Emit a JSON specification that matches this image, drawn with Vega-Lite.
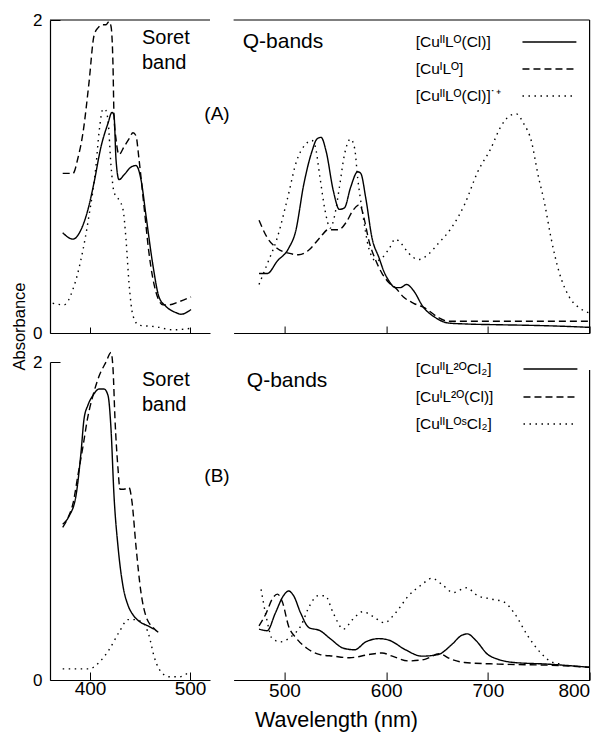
{
  "$schema": "https://vega.github.io/schema/vega-lite/v6.json",
  "background": "white",
  "padding": {"left": 10, "top": 11, "right": 5, "bottom": 2},
  "config": {
    "font": "Liberation Sans",
    "view": {"stroke": null},
    "axis": {"grid": false, "domainColor": "black", "domainWidth": 1.2, "tickColor": "black", "tickWidth": 1, "labelColor": "black", "titleColor": "black", "labelFont": "Liberation Sans", "titleFont": "Liberation Sans", "titleFontWeight": "normal"},
    "line": {"strokeWidth": 1.4, "color": "black", "interpolate": "monotone"},
    "rule": {"color": "black", "strokeWidth": 1.2},
    "text": {"font": "Liberation Sans", "color": "black"}
  },
  "datasets": {
    "AS": [
      {"s": "[CuᴵᴵLᴼ(Cl)]", "w": 372.7, "a": 0.64}, {"s": "[CuᴵᴵLᴼ(Cl)]", "w": 383, "a": 0.6}, {"s": "[CuᴵᴵLᴼ(Cl)]", "w": 391, "a": 0.66}, {"s": "[CuᴵᴵLᴼ(Cl)]", "w": 398, "a": 0.79}, {"s": "[CuᴵᴵLᴼ(Cl)]", "w": 404, "a": 0.96}, {"s": "[CuᴵᴵLᴼ(Cl)]", "w": 411, "a": 1.19}, {"s": "[CuᴵᴵLᴼ(Cl)]", "w": 418, "a": 1.34}, {"s": "[CuᴵᴵLᴼ(Cl)]", "w": 422, "a": 1.41}, {"s": "[CuᴵᴵLᴼ(Cl)]", "w": 424, "a": 1.39}, {"s": "[CuᴵᴵLᴼ(Cl)]", "w": 426, "a": 1.11}, {"s": "[CuᴵᴵLᴼ(Cl)]", "w": 429, "a": 0.98}, {"s": "[CuᴵᴵLᴼ(Cl)]", "w": 434, "a": 1.01}, {"s": "[CuᴵᴵLᴼ(Cl)]", "w": 441, "a": 1.06}, {"s": "[CuᴵᴵLᴼ(Cl)]", "w": 446, "a": 1.07}, {"s": "[CuᴵᴵLᴼ(Cl)]", "w": 451, "a": 0.98}, {"s": "[CuᴵᴵLᴼ(Cl)]", "w": 456, "a": 0.75}, {"s": "[CuᴵᴵLᴼ(Cl)]", "w": 463, "a": 0.43}, {"s": "[CuᴵᴵLᴼ(Cl)]", "w": 469, "a": 0.23}, {"s": "[CuᴵᴵLᴼ(Cl)]", "w": 476, "a": 0.17}, {"s": "[CuᴵᴵLᴼ(Cl)]", "w": 486, "a": 0.13}, {"s": "[CuᴵᴵLᴼ(Cl)]", "w": 491, "a": 0.12}, {"s": "[CuᴵᴵLᴼ(Cl)]", "w": 501, "a": 0.15},
      {"s": "[CuᴵLᴼ]", "w": 372.7, "a": 1.02}, {"s": "[CuᴵLᴼ]", "w": 383, "a": 1.02}, {"s": "[CuᴵLᴼ]", "w": 388, "a": 1.12}, {"s": "[CuᴵLᴼ]", "w": 393, "a": 1.28}, {"s": "[CuᴵLᴼ]", "w": 399, "a": 1.6}, {"s": "[CuᴵLᴼ]", "w": 404, "a": 1.9}, {"s": "[CuᴵLᴼ]", "w": 408, "a": 1.95}, {"s": "[CuᴵLᴼ]", "w": 413, "a": 1.97}, {"s": "[CuᴵLᴼ]", "w": 416, "a": 1.97}, {"s": "[CuᴵLᴼ]", "w": 419, "a": 1.99}, {"s": "[CuᴵLᴼ]", "w": 421, "a": 1.96}, {"s": "[CuᴵLᴼ]", "w": 423, "a": 1.71}, {"s": "[CuᴵLᴼ]", "w": 424, "a": 1.39}, {"s": "[CuᴵLᴼ]", "w": 426, "a": 1.24}, {"s": "[CuᴵLᴼ]", "w": 429, "a": 1.14}, {"s": "[CuᴵLᴼ]", "w": 434, "a": 1.19}, {"s": "[CuᴵLᴼ]", "w": 439, "a": 1.24}, {"s": "[CuᴵLᴼ]", "w": 443, "a": 1.28}, {"s": "[CuᴵLᴼ]", "w": 446, "a": 1.26}, {"s": "[CuᴵLᴼ]", "w": 449, "a": 1.11}, {"s": "[CuᴵLᴼ]", "w": 454, "a": 0.81}, {"s": "[CuᴵLᴼ]", "w": 459, "a": 0.51}, {"s": "[CuᴵLᴼ]", "w": 466, "a": 0.26}, {"s": "[CuᴵLᴼ]", "w": 473, "a": 0.18}, {"s": "[CuᴵLᴼ]", "w": 479, "a": 0.18}, {"s": "[CuᴵLᴼ]", "w": 489, "a": 0.2}, {"s": "[CuᴵLᴼ]", "w": 501, "a": 0.23},
      {"s": "[CuᴵᴵLᴼ(Cl)]˙⁺", "w": 362.7, "a": 0.19}, {"s": "[CuᴵᴵLᴼ(Cl)]˙⁺", "w": 374, "a": 0.18}, {"s": "[CuᴵᴵLᴼ(Cl)]˙⁺", "w": 383, "a": 0.28}, {"s": "[CuᴵᴵLᴼ(Cl)]˙⁺", "w": 391, "a": 0.47}, {"s": "[CuᴵᴵLᴼ(Cl)]˙⁺", "w": 399, "a": 0.75}, {"s": "[CuᴵᴵLᴼ(Cl)]˙⁺", "w": 406, "a": 1.07}, {"s": "[CuᴵᴵLᴼ(Cl)]˙⁺", "w": 409, "a": 1.28}, {"s": "[CuᴵᴵLᴼ(Cl)]˙⁺", "w": 413, "a": 1.43}, {"s": "[CuᴵᴵLᴼ(Cl)]˙⁺", "w": 415, "a": 1.43}, {"s": "[CuᴵᴵLᴼ(Cl)]˙⁺", "w": 418, "a": 1.36}, {"s": "[CuᴵᴵLᴼ(Cl)]˙⁺", "w": 421, "a": 1.07}, {"s": "[CuᴵᴵLᴼ(Cl)]˙⁺", "w": 424, "a": 0.9}, {"s": "[CuᴵᴵLᴼ(Cl)]˙⁺", "w": 429, "a": 0.85}, {"s": "[CuᴵᴵLᴼ(Cl)]˙⁺", "w": 433, "a": 0.79}, {"s": "[CuᴵᴵLᴼ(Cl)]˙⁺", "w": 436, "a": 0.6}, {"s": "[CuᴵᴵLᴼ(Cl)]˙⁺", "w": 439, "a": 0.32}, {"s": "[CuᴵᴵLᴼ(Cl)]˙⁺", "w": 443, "a": 0.11}, {"s": "[CuᴵᴵLᴼ(Cl)]˙⁺", "w": 449, "a": 0.05}, {"s": "[CuᴵᴵLᴼ(Cl)]˙⁺", "w": 466, "a": 0.04}, {"s": "[CuᴵᴵLᴼ(Cl)]˙⁺", "w": 483, "a": 0.02}, {"s": "[CuᴵᴵLᴼ(Cl)]˙⁺", "w": 501, "a": 0.03}
    ],
    "AQ": [
      {"s": "[CuᴵᴵLᴼ(Cl)]", "w": 475, "a": 0.38}, {"s": "[CuᴵᴵLᴼ(Cl)]", "w": 483, "a": 0.38}, {"s": "[CuᴵᴵLᴼ(Cl)]", "w": 493, "a": 0.46}, {"s": "[CuᴵᴵLᴼ(Cl)]", "w": 504, "a": 0.54}, {"s": "[CuᴵᴵLᴼ(Cl)]", "w": 511, "a": 0.65}, {"s": "[CuᴵᴵLᴼ(Cl)]", "w": 519, "a": 0.95}, {"s": "[CuᴵᴵLᴼ(Cl)]", "w": 527, "a": 1.16}, {"s": "[CuᴵᴵLᴼ(Cl)]", "w": 532, "a": 1.24}, {"s": "[CuᴵᴵLᴼ(Cl)]", "w": 536, "a": 1.25}, {"s": "[CuᴵᴵLᴼ(Cl)]", "w": 541, "a": 1.16}, {"s": "[CuᴵᴵLᴼ(Cl)]", "w": 548, "a": 0.91}, {"s": "[CuᴵᴵLᴼ(Cl)]", "w": 554, "a": 0.79}, {"s": "[CuᴵᴵLᴼ(Cl)]", "w": 559, "a": 0.8}, {"s": "[CuᴵᴵLᴼ(Cl)]", "w": 565, "a": 0.93}, {"s": "[CuᴵᴵLᴼ(Cl)]", "w": 572, "a": 1.03}, {"s": "[CuᴵᴵLᴼ(Cl)]", "w": 575, "a": 1.02}, {"s": "[CuᴵᴵLᴼ(Cl)]", "w": 580, "a": 0.86}, {"s": "[CuᴵᴵLᴼ(Cl)]", "w": 586, "a": 0.61}, {"s": "[CuᴵᴵLᴼ(Cl)]", "w": 593, "a": 0.48}, {"s": "[CuᴵᴵLᴼ(Cl)]", "w": 598, "a": 0.39}, {"s": "[CuᴵᴵLᴼ(Cl)]", "w": 603, "a": 0.33}, {"s": "[CuᴵᴵLᴼ(Cl)]", "w": 609, "a": 0.29}, {"s": "[CuᴵᴵLᴼ(Cl)]", "w": 614, "a": 0.29}, {"s": "[CuᴵᴵLᴼ(Cl)]", "w": 620, "a": 0.31}, {"s": "[CuᴵᴵLᴼ(Cl)]", "w": 627, "a": 0.27}, {"s": "[CuᴵᴵLᴼ(Cl)]", "w": 636, "a": 0.17}, {"s": "[CuᴵᴵLᴼ(Cl)]", "w": 648, "a": 0.1}, {"s": "[CuᴵᴵLᴼ(Cl)]", "w": 661, "a": 0.064}, {"s": "[CuᴵᴵLᴼ(Cl)]", "w": 677, "a": 0.058}, {"s": "[CuᴵᴵLᴼ(Cl)]", "w": 709, "a": 0.053}, {"s": "[CuᴵᴵLᴼ(Cl)]", "w": 741, "a": 0.049}, {"s": "[CuᴵᴵLᴼ(Cl)]", "w": 774, "a": 0.043}, {"s": "[CuᴵᴵLᴼ(Cl)]", "w": 800, "a": 0.036},
      {"s": "[CuᴵLᴼ]", "w": 475, "a": 0.72}, {"s": "[CuᴵLᴼ]", "w": 483, "a": 0.61}, {"s": "[CuᴵLᴼ]", "w": 493, "a": 0.54}, {"s": "[CuᴵLᴼ]", "w": 504, "a": 0.51}, {"s": "[CuᴵLᴼ]", "w": 514, "a": 0.5}, {"s": "[CuᴵLᴼ]", "w": 524, "a": 0.53}, {"s": "[CuᴵLᴼ]", "w": 535, "a": 0.61}, {"s": "[CuᴵLᴼ]", "w": 543, "a": 0.66}, {"s": "[CuᴵLᴼ]", "w": 553, "a": 0.66}, {"s": "[CuᴵLᴼ]", "w": 561, "a": 0.71}, {"s": "[CuᴵLᴼ]", "w": 567, "a": 0.78}, {"s": "[CuᴵLᴼ]", "w": 574, "a": 0.82}, {"s": "[CuᴵLᴼ]", "w": 578, "a": 0.74}, {"s": "[CuᴵLᴼ]", "w": 583, "a": 0.59}, {"s": "[CuᴵLᴼ]", "w": 590, "a": 0.46}, {"s": "[CuᴵLᴼ]", "w": 596, "a": 0.38}, {"s": "[CuᴵLᴼ]", "w": 603, "a": 0.32}, {"s": "[CuᴵLᴼ]", "w": 609, "a": 0.29}, {"s": "[CuᴵLᴼ]", "w": 617, "a": 0.23}, {"s": "[CuᴵLᴼ]", "w": 627, "a": 0.19}, {"s": "[CuᴵLᴼ]", "w": 638, "a": 0.16}, {"s": "[CuᴵLᴼ]", "w": 651, "a": 0.1}, {"s": "[CuᴵLᴼ]", "w": 661, "a": 0.075}, {"s": "[CuᴵLᴼ]", "w": 693, "a": 0.075}, {"s": "[CuᴵLᴼ]", "w": 741, "a": 0.075}, {"s": "[CuᴵLᴼ]", "w": 800, "a": 0.075},
      {"s": "[CuᴵᴵLᴼ(Cl)]˙⁺", "w": 475, "a": 0.31}, {"s": "[CuᴵᴵLᴼ(Cl)]˙⁺", "w": 483, "a": 0.44}, {"s": "[CuᴵᴵLᴼ(Cl)]˙⁺", "w": 493, "a": 0.61}, {"s": "[CuᴵᴵLᴼ(Cl)]˙⁺", "w": 503, "a": 0.86}, {"s": "[CuᴵᴵLᴼ(Cl)]˙⁺", "w": 512, "a": 1.1}, {"s": "[CuᴵᴵLᴼ(Cl)]˙⁺", "w": 520, "a": 1.2}, {"s": "[CuᴵᴵLᴼ(Cl)]˙⁺", "w": 527, "a": 1.23}, {"s": "[CuᴵᴵLᴼ(Cl)]˙⁺", "w": 530, "a": 1.2}, {"s": "[CuᴵᴵLᴼ(Cl)]˙⁺", "w": 535, "a": 0.99}, {"s": "[CuᴵᴵLᴼ(Cl)]˙⁺", "w": 540, "a": 0.78}, {"s": "[CuᴵᴵLᴼ(Cl)]˙⁺", "w": 545, "a": 0.67}, {"s": "[CuᴵᴵLᴼ(Cl)]˙⁺", "w": 549, "a": 0.74}, {"s": "[CuᴵᴵLᴼ(Cl)]˙⁺", "w": 554, "a": 0.93}, {"s": "[CuᴵᴵLᴼ(Cl)]˙⁺", "w": 559, "a": 1.14}, {"s": "[CuᴵᴵLᴼ(Cl)]˙⁺", "w": 565, "a": 1.24}, {"s": "[CuᴵᴵLᴼ(Cl)]˙⁺", "w": 569, "a": 1.18}, {"s": "[CuᴵᴵLᴼ(Cl)]˙⁺", "w": 572, "a": 0.99}, {"s": "[CuᴵᴵLᴼ(Cl)]˙⁺", "w": 577, "a": 0.76}, {"s": "[CuᴵᴵLᴼ(Cl)]˙⁺", "w": 583, "a": 0.54}, {"s": "[CuᴵᴵLᴼ(Cl)]˙⁺", "w": 590, "a": 0.46}, {"s": "[CuᴵᴵLᴼ(Cl)]˙⁺", "w": 596, "a": 0.48}, {"s": "[CuᴵᴵLᴼ(Cl)]˙⁺", "w": 603, "a": 0.54}, {"s": "[CuᴵᴵLᴼ(Cl)]˙⁺", "w": 609, "a": 0.6}, {"s": "[CuᴵᴵLᴼ(Cl)]˙⁺", "w": 615, "a": 0.57}, {"s": "[CuᴵᴵLᴼ(Cl)]˙⁺", "w": 622, "a": 0.51}, {"s": "[CuᴵᴵLᴼ(Cl)]˙⁺", "w": 632, "a": 0.47}, {"s": "[CuᴵᴵLᴼ(Cl)]˙⁺", "w": 641, "a": 0.5}, {"s": "[CuᴵᴵLᴼ(Cl)]˙⁺", "w": 651, "a": 0.57}, {"s": "[CuᴵᴵLᴼ(Cl)]˙⁺", "w": 664, "a": 0.67}, {"s": "[CuᴵᴵLᴼ(Cl)]˙⁺", "w": 677, "a": 0.82}, {"s": "[CuᴵᴵLᴼ(Cl)]˙⁺", "w": 690, "a": 1.03}, {"s": "[CuᴵᴵLᴼ(Cl)]˙⁺", "w": 703, "a": 1.18}, {"s": "[CuᴵᴵLᴼ(Cl)]˙⁺", "w": 712, "a": 1.31}, {"s": "[CuᴵᴵLᴼ(Cl)]˙⁺", "w": 722, "a": 1.39}, {"s": "[CuᴵᴵLᴼ(Cl)]˙⁺", "w": 728, "a": 1.4}, {"s": "[CuᴵᴵLᴼ(Cl)]˙⁺", "w": 735, "a": 1.34}, {"s": "[CuᴵᴵLᴼ(Cl)]˙⁺", "w": 743, "a": 1.22}, {"s": "[CuᴵᴵLᴼ(Cl)]˙⁺", "w": 749, "a": 1.02}, {"s": "[CuᴵᴵLᴼ(Cl)]˙⁺", "w": 756, "a": 0.82}, {"s": "[CuᴵᴵLᴼ(Cl)]˙⁺", "w": 762, "a": 0.61}, {"s": "[CuᴵᴵLᴼ(Cl)]˙⁺", "w": 770, "a": 0.39}, {"s": "[CuᴵᴵLᴼ(Cl)]˙⁺", "w": 780, "a": 0.23}, {"s": "[CuᴵᴵLᴼ(Cl)]˙⁺", "w": 790, "a": 0.16}, {"s": "[CuᴵᴵLᴼ(Cl)]˙⁺", "w": 799, "a": 0.13}
    ],
    "BS": [
      {"s": "[CuᴵᴵL²ᴼCl₂]", "w": 372.7, "a": 0.98}, {"s": "[CuᴵᴵL²ᴼCl₂]", "w": 379, "a": 1.03}, {"s": "[CuᴵᴵL²ᴼCl₂]", "w": 386, "a": 1.16}, {"s": "[CuᴵᴵL²ᴼCl₂]", "w": 391, "a": 1.43}, {"s": "[CuᴵᴵL²ᴼCl₂]", "w": 394, "a": 1.64}, {"s": "[CuᴵᴵL²ᴼCl₂]", "w": 398, "a": 1.73}, {"s": "[CuᴵᴵL²ᴼCl₂]", "w": 403, "a": 1.79}, {"s": "[CuᴵᴵL²ᴼCl₂]", "w": 409, "a": 1.83}, {"s": "[CuᴵᴵL²ᴼCl₂]", "w": 414, "a": 1.83}, {"s": "[CuᴵᴵL²ᴼCl₂]", "w": 418, "a": 1.79}, {"s": "[CuᴵᴵL²ᴼCl₂]", "w": 421, "a": 1.58}, {"s": "[CuᴵᴵL²ᴼCl₂]", "w": 424, "a": 1.16}, {"s": "[CuᴵᴵL²ᴼCl₂]", "w": 428, "a": 0.84}, {"s": "[CuᴵᴵL²ᴼCl₂]", "w": 433, "a": 0.59}, {"s": "[CuᴵᴵL²ᴼCl₂]", "w": 438, "a": 0.47}, {"s": "[CuᴵᴵL²ᴼCl₂]", "w": 443, "a": 0.41}, {"s": "[CuᴵᴵL²ᴼCl₂]", "w": 449, "a": 0.37}, {"s": "[CuᴵᴵL²ᴼCl₂]", "w": 458, "a": 0.34}, {"s": "[CuᴵᴵL²ᴼCl₂]", "w": 464, "a": 0.32},
      {"s": "[CuᴵL²ᴼ(Cl)]", "w": 372.7, "a": 0.96}, {"s": "[CuᴵL²ᴼ(Cl)]", "w": 378, "a": 1.02}, {"s": "[CuᴵL²ᴼ(Cl)]", "w": 383, "a": 1.11}, {"s": "[CuᴵL²ᴼ(Cl)]", "w": 388, "a": 1.29}, {"s": "[CuᴵL²ᴼ(Cl)]", "w": 393, "a": 1.47}, {"s": "[CuᴵL²ᴼ(Cl)]", "w": 398, "a": 1.66}, {"s": "[CuᴵL²ᴼ(Cl)]", "w": 403, "a": 1.79}, {"s": "[CuᴵL²ᴼ(Cl)]", "w": 409, "a": 1.91}, {"s": "[CuᴵL²ᴼ(Cl)]", "w": 416, "a": 2.0}, {"s": "[CuᴵL²ᴼ(Cl)]", "w": 421, "a": 2.06}, {"s": "[CuᴵL²ᴼ(Cl)]", "w": 423, "a": 1.96}, {"s": "[CuᴵL²ᴼ(Cl)]", "w": 425, "a": 1.64}, {"s": "[CuᴵL²ᴼ(Cl)]", "w": 428, "a": 1.33}, {"s": "[CuᴵL²ᴼ(Cl)]", "w": 430, "a": 1.2}, {"s": "[CuᴵL²ᴼ(Cl)]", "w": 434, "a": 1.2}, {"s": "[CuᴵL²ᴼ(Cl)]", "w": 439, "a": 1.21}, {"s": "[CuᴵL²ᴼ(Cl)]", "w": 442, "a": 1.12}, {"s": "[CuᴵL²ᴼ(Cl)]", "w": 446, "a": 0.84}, {"s": "[CuᴵL²ᴼ(Cl)]", "w": 451, "a": 0.55}, {"s": "[CuᴵL²ᴼ(Cl)]", "w": 456, "a": 0.4}, {"s": "[CuᴵL²ᴼ(Cl)]", "w": 463, "a": 0.33}, {"s": "[CuᴵL²ᴼ(Cl)]", "w": 471, "a": 0.29},
      {"s": "[CuᴵᴵLᴼˢCl₂]", "w": 372.7, "a": 0.07}, {"s": "[CuᴵᴵLᴼˢCl₂]", "w": 399, "a": 0.07}, {"s": "[CuᴵᴵLᴼˢCl₂]", "w": 409, "a": 0.11}, {"s": "[CuᴵᴵLᴼˢCl₂]", "w": 419, "a": 0.19}, {"s": "[CuᴵᴵLᴼˢCl₂]", "w": 429, "a": 0.3}, {"s": "[CuᴵᴵLᴼˢCl₂]", "w": 438, "a": 0.38}, {"s": "[CuᴵᴵLᴼˢCl₂]", "w": 444, "a": 0.38}, {"s": "[CuᴵᴵLᴼˢCl₂]", "w": 453, "a": 0.36}, {"s": "[CuᴵᴵLᴼˢCl₂]", "w": 459, "a": 0.28}, {"s": "[CuᴵᴵLᴼˢCl₂]", "w": 464, "a": 0.15}, {"s": "[CuᴵᴵLᴼˢCl₂]", "w": 469, "a": 0.07}, {"s": "[CuᴵᴵLᴼˢCl₂]", "w": 479, "a": 0.02}, {"s": "[CuᴵᴵLᴼˢCl₂]", "w": 489, "a": 0.02}, {"s": "[CuᴵᴵLᴼˢCl₂]", "w": 499, "a": 0.05}
    ],
    "BQ": [
      {"s": "[CuᴵᴵL²ᴼCl₂]", "w": 475, "a": 0.32}, {"s": "[CuᴵᴵL²ᴼCl₂]", "w": 483, "a": 0.31}, {"s": "[CuᴵᴵL²ᴼCl₂]", "w": 491, "a": 0.42}, {"s": "[CuᴵᴵL²ᴼCl₂]", "w": 499, "a": 0.53}, {"s": "[CuᴵᴵL²ᴼCl₂]", "w": 504, "a": 0.56}, {"s": "[CuᴵᴵL²ᴼCl₂]", "w": 509, "a": 0.53}, {"s": "[CuᴵᴵL²ᴼCl₂]", "w": 516, "a": 0.42}, {"s": "[CuᴵᴵL²ᴼCl₂]", "w": 524, "a": 0.33}, {"s": "[CuᴵᴵL²ᴼCl₂]", "w": 535, "a": 0.31}, {"s": "[CuᴵᴵL²ᴼCl₂]", "w": 545, "a": 0.26}, {"s": "[CuᴵᴵL²ᴼCl₂]", "w": 558, "a": 0.2}, {"s": "[CuᴵᴵL²ᴼCl₂]", "w": 569, "a": 0.19}, {"s": "[CuᴵᴵL²ᴼCl₂]", "w": 580, "a": 0.24}, {"s": "[CuᴵᴵL²ᴼCl₂]", "w": 593, "a": 0.26}, {"s": "[CuᴵᴵL²ᴼCl₂]", "w": 603, "a": 0.25}, {"s": "[CuᴵᴵL²ᴼCl₂]", "w": 619, "a": 0.19}, {"s": "[CuᴵᴵL²ᴼCl₂]", "w": 635, "a": 0.15}, {"s": "[CuᴵᴵL²ᴼCl₂]", "w": 651, "a": 0.16}, {"s": "[CuᴵᴵL²ᴼCl₂]", "w": 664, "a": 0.22}, {"s": "[CuᴵᴵL²ᴼCl₂]", "w": 674, "a": 0.28}, {"s": "[CuᴵᴵL²ᴼCl₂]", "w": 680, "a": 0.29}, {"s": "[CuᴵᴵL²ᴼCl₂]", "w": 688, "a": 0.25}, {"s": "[CuᴵᴵL²ᴼCl₂]", "w": 700, "a": 0.16}, {"s": "[CuᴵᴵL²ᴼCl₂]", "w": 710, "a": 0.13}, {"s": "[CuᴵᴵL²ᴼCl₂]", "w": 726, "a": 0.11}, {"s": "[CuᴵᴵL²ᴼCl₂]", "w": 758, "a": 0.1}, {"s": "[CuᴵᴵL²ᴼCl₂]", "w": 800, "a": 0.08},
      {"s": "[CuᴵL²ᴼ(Cl)]", "w": 475, "a": 0.34}, {"s": "[CuᴵL²ᴼ(Cl)]", "w": 482, "a": 0.42}, {"s": "[CuᴵL²ᴼ(Cl)]", "w": 488, "a": 0.51}, {"s": "[CuᴵL²ᴼ(Cl)]", "w": 493, "a": 0.54}, {"s": "[CuᴵL²ᴼ(Cl)]", "w": 498, "a": 0.49}, {"s": "[CuᴵL²ᴼ(Cl)]", "w": 504, "a": 0.34}, {"s": "[CuᴵL²ᴼ(Cl)]", "w": 512, "a": 0.26}, {"s": "[CuᴵL²ᴼ(Cl)]", "w": 522, "a": 0.2}, {"s": "[CuᴵL²ᴼ(Cl)]", "w": 535, "a": 0.16}, {"s": "[CuᴵL²ᴼ(Cl)]", "w": 548, "a": 0.15}, {"s": "[CuᴵL²ᴼ(Cl)]", "w": 564, "a": 0.14}, {"s": "[CuᴵL²ᴼ(Cl)]", "w": 583, "a": 0.16}, {"s": "[CuᴵL²ᴼ(Cl)]", "w": 596, "a": 0.17}, {"s": "[CuᴵL²ᴼ(Cl)]", "w": 606, "a": 0.15}, {"s": "[CuᴵL²ᴼ(Cl)]", "w": 622, "a": 0.12}, {"s": "[CuᴵL²ᴼ(Cl)]", "w": 638, "a": 0.13}, {"s": "[CuᴵL²ᴼ(Cl)]", "w": 652, "a": 0.165}, {"s": "[CuᴵL²ᴼ(Cl)]", "w": 664, "a": 0.13}, {"s": "[CuᴵL²ᴼ(Cl)]", "w": 677, "a": 0.11}, {"s": "[CuᴵL²ᴼ(Cl)]", "w": 710, "a": 0.1}, {"s": "[CuᴵL²ᴼ(Cl)]", "w": 774, "a": 0.09}, {"s": "[CuᴵL²ᴼ(Cl)]", "w": 800, "a": 0.08},
      {"s": "[CuᴵᴵLᴼˢCl₂]", "w": 477, "a": 0.57}, {"s": "[CuᴵᴵLᴼˢCl₂]", "w": 482, "a": 0.4}, {"s": "[CuᴵᴵLᴼˢCl₂]", "w": 488, "a": 0.26}, {"s": "[CuᴵᴵLᴼˢCl₂]", "w": 496, "a": 0.24}, {"s": "[CuᴵᴵLᴼˢCl₂]", "w": 506, "a": 0.27}, {"s": "[CuᴵᴵLᴼˢCl₂]", "w": 516, "a": 0.34}, {"s": "[CuᴵᴵLᴼˢCl₂]", "w": 525, "a": 0.47}, {"s": "[CuᴵᴵLᴼˢCl₂]", "w": 533, "a": 0.53}, {"s": "[CuᴵᴵLᴼˢCl₂]", "w": 540, "a": 0.53}, {"s": "[CuᴵᴵLᴼˢCl₂]", "w": 548, "a": 0.42}, {"s": "[CuᴵᴵLᴼˢCl₂]", "w": 558, "a": 0.32}, {"s": "[CuᴵᴵLᴼˢCl₂]", "w": 567, "a": 0.38}, {"s": "[CuᴵᴵLᴼˢCl₂]", "w": 577, "a": 0.43}, {"s": "[CuᴵᴵLᴼˢCl₂]", "w": 587, "a": 0.4}, {"s": "[CuᴵᴵLᴼˢCl₂]", "w": 598, "a": 0.36}, {"s": "[CuᴵᴵLᴼˢCl₂]", "w": 609, "a": 0.42}, {"s": "[CuᴵᴵLᴼˢCl₂]", "w": 622, "a": 0.53}, {"s": "[CuᴵᴵLᴼˢCl₂]", "w": 635, "a": 0.6}, {"s": "[CuᴵᴵLᴼˢCl₂]", "w": 645, "a": 0.64}, {"s": "[CuᴵᴵLᴼˢCl₂]", "w": 655, "a": 0.6}, {"s": "[CuᴵᴵLᴼˢCl₂]", "w": 666, "a": 0.55}, {"s": "[CuᴵᴵLᴼˢCl₂]", "w": 679, "a": 0.58}, {"s": "[CuᴵᴵLᴼˢCl₂]", "w": 690, "a": 0.53}, {"s": "[CuᴵᴵLᴼˢCl₂]", "w": 703, "a": 0.51}, {"s": "[CuᴵᴵLᴼˢCl₂]", "w": 716, "a": 0.49}, {"s": "[CuᴵᴵLᴼˢCl₂]", "w": 726, "a": 0.42}, {"s": "[CuᴵᴵLᴼˢCl₂]", "w": 739, "a": 0.28}, {"s": "[CuᴵᴵLᴼˢCl₂]", "w": 752, "a": 0.17}, {"s": "[CuᴵᴵLᴼˢCl₂]", "w": 764, "a": 0.11}, {"s": "[CuᴵᴵLᴼˢCl₂]", "w": 774, "a": 0.1}
    ]
  },
  "columns": 2,
  "spacing": {"row": 29, "column": 23.6},
  "bounds": "flush",
  "resolve": {"scale": {"x": "independent", "y": "independent", "strokeDash": "independent"}, "legend": {"strokeDash": "independent"}},
  "concat": [
    {
      "width": 160, "height": 313,
      "layer": [
        {
          "data": {"name": "AS"},
          "mark": {"type": "line"},
          "encoding": {
            "x": {"field": "w", "type": "quantitative", "scale": {"domain": [360, 520]}, "axis": {"values": [400, 500], "labels": false, "tickSize": -6, "title": null}},
            "y": {"field": "a", "type": "quantitative", "scale": {"domain": [0, 2]}, "axis": {"values": [0, 2], "format": "d", "tickSize": -10, "labelPadding": 18, "labelFontSize": 17, "title": null}},
            "strokeDash": {"field": "s", "type": "nominal", "scale": {"domain": ["[CuᴵᴵLᴼ(Cl)]", "[CuᴵLᴼ]", "[CuᴵᴵLᴼ(Cl)]˙⁺"], "range": [[1, 0], [7, 4], [1.5, 4.5]]}, "legend": null}
          }
        },
        {"data": {"values": [{}]}, "mark": {"type": "rule"}, "encoding": {"y": {"datum": 2}}},
        {"data": {"values": [{}]}, "mark": {"type": "text", "text": ["Soret", "band"], "align": "left", "baseline": "top", "fontSize": 20, "lineHeight": 25}, "encoding": {"x": {"datum": 452}, "y": {"datum": 1.95}}},
        {"data": {"values": [{}]}, "mark": {"type": "text", "text": "(A)", "align": "center", "baseline": "middle", "fontSize": 19}, "encoding": {"x": {"datum": 527}, "y": {"datum": 1.4}}}
      ]
    },
    {
      "width": 356, "height": 313,
      "layer": [
        {
          "data": {"name": "AQ"},
          "mark": {"type": "line"},
          "encoding": {
            "x": {"field": "w", "type": "quantitative", "scale": {"domain": [455, 800]}, "axis": {"values": [500, 600, 700, 800], "labels": false, "tickSize": -7, "title": null}},
            "y": {"field": "a", "type": "quantitative", "scale": {"domain": [0, 2]}, "axis": null},
            "strokeDash": {"field": "s", "type": "nominal", "scale": {"domain": ["[CuᴵᴵLᴼ(Cl)]", "[CuᴵLᴼ]", "[CuᴵᴵLᴼ(Cl)]˙⁺"], "range": [[1, 0], [7, 4], [1.5, 4.5]]}, "legend": null}
          }
        },
        {"data": {"values": [{}]}, "mark": {"type": "rule"}, "encoding": {"y": {"datum": 2}}},
        {"data": {"values": [{}]}, "mark": {"type": "rule"}, "encoding": {"x": {"datum": 800}}},
        {"data": {"values": [{}]}, "mark": {"type": "text", "text": "Q-bands", "align": "left", "baseline": "middle", "fontSize": 21}, "encoding": {"x": {"datum": 459}, "y": {"datum": 1.86}}},
        {
          "data": {"values": [{"s": "[CuᴵᴵLᴼ(Cl)]"}]},
          "layer": [
            {"mark": {"type": "rule", "strokeWidth": 1.4}, "encoding": {"x": {"datum": 734}, "x2": {"datum": 787}, "y": {"datum": 1.859}, "strokeDash": {"field": "s", "type": "nominal", "legend": null}}},
            {"mark": {"type": "text", "align": "left", "baseline": "middle", "fontSize": 15.5}, "encoding": {"x": {"datum": 629}, "y": {"datum": 1.859}, "text": {"field": "s"}}}
          ]
        },
        {
          "data": {"values": [{"s": "[CuᴵLᴼ]"}]},
          "layer": [
            {"mark": {"type": "rule", "strokeWidth": 1.4}, "encoding": {"x": {"datum": 734}, "x2": {"datum": 787}, "y": {"datum": 1.687}, "strokeDash": {"field": "s", "type": "nominal", "legend": null}}},
            {"mark": {"type": "text", "align": "left", "baseline": "middle", "fontSize": 15.5}, "encoding": {"x": {"datum": 629}, "y": {"datum": 1.687}, "text": {"field": "s"}}}
          ]
        },
        {
          "data": {"values": [{"s": "[CuᴵᴵLᴼ(Cl)]˙⁺"}]},
          "layer": [
            {"mark": {"type": "rule", "strokeWidth": 1.4}, "encoding": {"x": {"datum": 734}, "x2": {"datum": 787}, "y": {"datum": 1.514}, "strokeDash": {"field": "s", "type": "nominal", "legend": null}}},
            {"mark": {"type": "text", "align": "left", "baseline": "middle", "fontSize": 15.5}, "encoding": {"x": {"datum": 629}, "y": {"datum": 1.514}, "text": {"field": "s"}}}
          ]
        }
      ]
    },
    {
      "width": 160, "height": 318,
      "layer": [
        {
          "data": {"name": "BS"},
          "mark": {"type": "line"},
          "encoding": {
            "x": {"field": "w", "type": "quantitative", "scale": {"domain": [360, 520]}, "axis": {"values": [400, 500], "tickSize": -8, "labelPadding": 7, "labelFontSize": 19, "title": null}},
            "y": {"field": "a", "type": "quantitative", "scale": {"domain": [0, 2]}, "axis": {"values": [0, 2], "format": "d", "tickSize": -10, "labelPadding": 18, "labelFontSize": 17, "title": "Absorbance", "titleFontSize": 16.5, "titleX": -26, "titleY": -36, "titleBaseline": "alphabetic", "titleAlign": "center"}},
            "strokeDash": {"field": "s", "type": "nominal", "scale": {"domain": ["[CuᴵᴵL²ᴼCl₂]", "[CuᴵL²ᴼ(Cl)]", "[CuᴵᴵLᴼˢCl₂]"], "range": [[1, 0], [7, 4], [1.5, 4.5]]}, "legend": null}
          }
        },
        {"data": {"values": [{}]}, "mark": {"type": "text", "text": ["Soret", "band"], "align": "left", "baseline": "top", "fontSize": 20, "lineHeight": 25}, "encoding": {"x": {"datum": 452}, "y": {"datum": 1.95}}},
        {"data": {"values": [{}]}, "mark": {"type": "text", "text": "(B)", "align": "center", "baseline": "middle", "fontSize": 19}, "encoding": {"x": {"datum": 527}, "y": {"datum": 1.28}}}
      ]
    },
    {
      "width": 356, "height": 318,
      "layer": [
        {
          "data": {"name": "BQ"},
          "mark": {"type": "line"},
          "encoding": {
            "x": {"field": "w", "type": "quantitative", "scale": {"domain": [455, 800]}, "axis": {"values": [500, 600, 700, 800], "tickSize": -8, "labelPadding": 9, "labelFontSize": 19, "title": "Wavelength (nm)", "titleFontSize": 21.5, "titleAnchor": "start", "titleAlign": "left", "titleX": 21, "titleY": 46, "titleBaseline": "alphabetic"}},
            "y": {"field": "a", "type": "quantitative", "scale": {"domain": [0, 2]}, "axis": null},
            "strokeDash": {"field": "s", "type": "nominal", "scale": {"domain": ["[CuᴵᴵL²ᴼCl₂]", "[CuᴵL²ᴼ(Cl)]", "[CuᴵᴵLᴼˢCl₂]"], "range": [[1, 0], [7, 4], [1.5, 4.5]]}, "legend": null}
          }
        },
        {"data": {"values": [{}]}, "mark": {"type": "rule"}, "encoding": {"x": {"datum": 800}, "y": {"datum": 0}, "y2": {"datum": 1.95}}},
        {"data": {"values": [{}]}, "mark": {"type": "text", "text": "Q-bands", "align": "left", "baseline": "middle", "fontSize": 21}, "encoding": {"x": {"datum": 463}, "y": {"datum": 1.88}}},
        {
          "data": {"values": [{"s": "[CuᴵᴵL²ᴼCl₂]"}]},
          "layer": [
            {"mark": {"type": "rule", "strokeWidth": 1.4}, "encoding": {"x": {"datum": 735}, "x2": {"datum": 788}, "y": {"datum": 1.956}, "strokeDash": {"field": "s", "type": "nominal", "legend": null}}},
            {"mark": {"type": "text", "align": "left", "baseline": "middle", "fontSize": 15.5}, "encoding": {"x": {"datum": 629}, "y": {"datum": 1.956}, "text": {"field": "s"}}}
          ]
        },
        {
          "data": {"values": [{"s": "[CuᴵL²ᴼ(Cl)]"}]},
          "layer": [
            {"mark": {"type": "rule", "strokeWidth": 1.4}, "encoding": {"x": {"datum": 735}, "x2": {"datum": 788}, "y": {"datum": 1.78}, "strokeDash": {"field": "s", "type": "nominal", "legend": null}}},
            {"mark": {"type": "text", "align": "left", "baseline": "middle", "fontSize": 15.5}, "encoding": {"x": {"datum": 629}, "y": {"datum": 1.78}, "text": {"field": "s"}}}
          ]
        },
        {
          "data": {"values": [{"s": "[CuᴵᴵLᴼˢCl₂]"}]},
          "layer": [
            {"mark": {"type": "rule", "strokeWidth": 1.4}, "encoding": {"x": {"datum": 735}, "x2": {"datum": 788}, "y": {"datum": 1.61}, "strokeDash": {"field": "s", "type": "nominal", "legend": null}}},
            {"mark": {"type": "text", "align": "left", "baseline": "middle", "fontSize": 15.5}, "encoding": {"x": {"datum": 629}, "y": {"datum": 1.61}, "text": {"field": "s"}}}
          ]
        }
      ]
    }
  ]
}
